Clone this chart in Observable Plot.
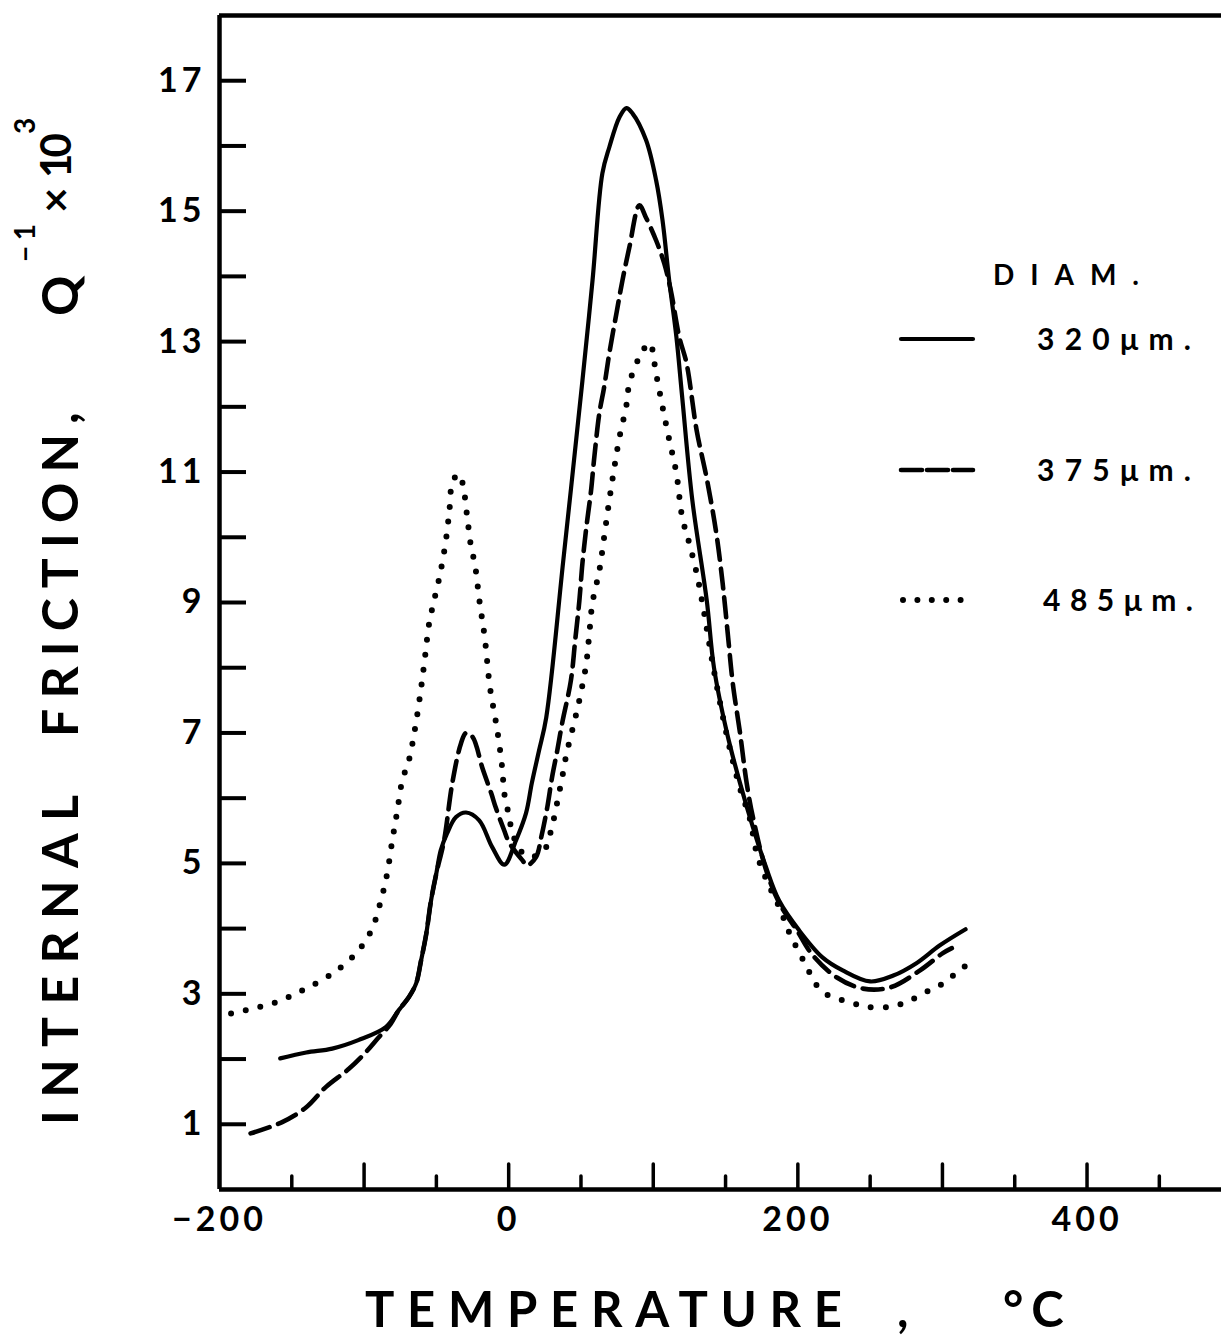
<!DOCTYPE html>
<html><head><meta charset="utf-8">
<script src="https://cdn.jsdelivr.net/npm/d3@7"></script>
<script src="https://cdn.jsdelivr.net/npm/@observablehq/plot@0.6"></script>
<style>body{margin:0;background:#fff;} svg{display:block}</style>
</head><body><div id="chart"></div>
<script>
// ---- data ----
const T320 = [-158, -140, -122, -104, -85, -76, -69, -64, -60.6, -57, -53.7, -50, -47, -42.6, -36.4, -29.5, -20.4, -11.4, -3, 5, 12, 16, 21, 26, 37.8, 51, 58, 64.8, 69.6, 76.6, 81.4, 85.6, 95, 102, 106.4, 111, 116, 120, 127, 137, 142, 151, 160, 169, 178, 187, 201, 217, 231, 250, 266, 282, 298, 316];
const Q320 = [2.01, 2.1, 2.16, 2.29, 2.49, 2.75, 2.95, 3.16, 3.51, 3.92, 4.43, 4.85, 5.2, 5.46, 5.71, 5.78, 5.66, 5.25, 4.98, 5.35, 5.77, 6.23, 6.73, 7.24, 9.65, 12.4, 13.94, 15.58, 15.98, 16.44, 16.58, 16.5, 16.09, 15.47, 14.86, 13.94, 13.07, 12.15, 10.57, 9.03, 8.0, 7.0, 6.23, 5.55, 4.94, 4.43, 3.97, 3.56, 3.36, 3.19, 3.28, 3.47, 3.74, 3.99];

const T375 = [-178.5, -157, -140, -126.5, -110.5, -99, -90, -81.6, -76, -69, -64, -60.6, -57, -53.7, -50, -44.7, -39, -33, -29.5, -25, -18, -12, -9, -3, 0.3, 9.4, 12.8, 19, 22.5, 26.7, 30, 33.6, 37, 43, 46, 48.9, 51, 53.7, 57, 59, 62.7, 66, 69.6, 74.5, 78.7, 83.5, 90.4, 95, 102, 107.6, 112, 118, 123, 130, 137, 143.6, 148, 151.5, 155, 160, 164.6, 169, 178, 187, 200, 210, 227, 245, 264, 284.5, 300, 306.5];
const Q375 = [0.86, 1.03, 1.26, 1.57, 1.85, 2.1, 2.33, 2.54, 2.75, 2.95, 3.16, 3.51, 3.92, 4.43, 4.85, 5.35, 6.23, 6.84, 7.0, 6.94, 6.45, 6.07, 5.86, 5.5, 5.32, 5.05, 4.97, 5.1, 5.4, 5.86, 6.32, 6.73, 7.15, 7.8, 8.42, 9.03, 9.6, 10.15, 10.72, 11.18, 11.9, 12.3, 12.82, 13.43, 13.94, 14.45, 15.09, 14.9, 14.55, 14.2, 13.8, 13.07, 12.67, 11.64, 10.9, 10.06, 9.29, 8.53, 7.76, 7.0, 6.23, 5.7, 4.9, 4.4, 3.95, 3.6, 3.25, 3.08, 3.1, 3.36, 3.62, 3.7];

const T485 = [-192, -177.6, -161, -143, -122, -105.7, -95, -88.4, -84, -80.5, -77, -73.6, -69, -64.6, -61, -58, -55, -52, -47.5, -43.5, -41, -39, -34.9, -32, -29, -26, -23.4, -20, -16.6, -13, -9.4, -7.6, -4.5, -3, 0, 2.7, 8, 15, 22, 26.7, 29, 31.5, 33.6, 35.7, 37.8, 40, 43.3, 46.8, 50, 53.7, 55.8, 57.9, 62.7, 66, 69.6, 73, 76.6, 81.4, 83.5, 90.4, 97.4, 102, 106.4, 111, 116, 120, 125, 130, 134, 142, 151, 160, 166.6, 172, 179, 187.5, 194.4, 202.7, 208, 213, 220.7, 231, 240.6, 248, 259, 267, 275, 288, 300.5, 314, 321];
const Q485 = [2.7, 2.77, 2.87, 3.05, 3.31, 3.62, 3.97, 4.43, 4.85, 5.35, 5.81, 6.27, 6.58, 7.09, 7.62, 8.14, 8.68, 8.99, 9.43, 9.94, 10.41, 10.83, 10.97, 10.84, 10.37, 9.85, 9.59, 8.99, 8.47, 7.71, 7.24, 7.0, 6.47, 6.07, 5.75, 5.46, 5.2, 5.1, 5.15, 5.28, 5.48, 5.71, 5.94, 6.17, 6.41, 6.68, 6.98, 7.3, 7.62, 8.07, 8.53, 8.99, 9.49, 10.0, 10.57, 11.06, 11.53, 12.02, 12.36, 12.76, 12.98, 12.5, 12.0, 11.5, 10.98, 10.31, 9.9, 9.45, 8.99, 7.95, 6.95, 6.15, 5.7, 5.12, 4.71, 4.31, 3.92, 3.56, 3.33, 3.13, 2.98, 2.9, 2.84, 2.8, 2.79, 2.82, 2.87, 3.02, 3.16, 3.4, 3.48];

const diameters = ["320", "375", "485"];
const legendTitle = "DIAM.";
const xMajorTicks = [-100, 0, 100, 200, 300, 400];
const xMinorTicks = [-150, -50, 50, 150, 250, 350, 450];
const xTickLabels = [-200, 0, 200, 400];
const yTicks = [1, 2, 3, 4, 5, 6, 7, 8, 9, 10, 11, 12, 13, 14, 15, 16, 17];
const yTickLabels = [1, 3, 5, 7, 9, 11, 13, 15, 17];
const xDomain = [-200, 493];
const yDomain = [0, 18];

// ---- layout / style ----
const W = 1221, H = 1336, mL = 219, mR = 0, mT = 15, mB = 147;
const plotW = W - mL - mR, plotH = H - mT - mB;
const FONT = "Lato, 'Open Sans', sans-serif";
const styles = [
  {strokeWidth: 4.2, strokeDasharray: null, strokeLinecap: "round"},
  {strokeWidth: 4.6, strokeDasharray: "20,9", strokeLinecap: "round"},
  {strokeWidth: 6, strokeDasharray: "0,15", strokeLinecap: "round"}
];
const seriesT = [T320, T375, T485];
const seriesQ = [Q320, Q375, Q485];
const rows = (i) => seriesT[i].map((t, j) => ({T: t, Q: seriesQ[i][j], d: diameters[i]}));
const fmt = d => d < 0 ? "\u2212" + Math.abs(d) : String(d);

const chart = Plot.plot({
  width: W, height: H,
  marginLeft: mL, marginRight: mR, marginTop: mT, marginBottom: mB,
  style: {fontFamily: FONT, background: "#fff", color: "#000", overflow: "visible"},
  x: {domain: xDomain, axis: null, label: null},
  y: {domain: yDomain, axis: null, label: null},
  marks: [
    ...[2, 1, 0].map(i => Plot.line(rows(i), {
      x: "T", y: "Q", curve: "catmull-rom", stroke: "#000",
      strokeWidth: styles[i].strokeWidth,
      strokeDasharray: styles[i].strokeDasharray,
      strokeLinecap: styles[i].strokeLinecap,
      strokeLinejoin: "round"
    })),
    Plot.tickX(xMajorTicks, {x: d => d, insetTop: plotH - 25, strokeWidth: 3.5, strokeLinecap: "round"}),
    Plot.tickX(xMinorTicks, {x: d => d, insetTop: plotH - 13, strokeWidth: 3.5, strokeLinecap: "round"}),
    Plot.tickY(yTicks, {y: d => d, insetRight: plotW - 27, strokeWidth: 4}),
    Plot.ruleX([xDomain[0]], {strokeWidth: 4.5}),
    Plot.ruleY([yDomain[0]], {strokeWidth: 4.5}),
    Plot.ruleY([yDomain[1]], {strokeWidth: 4.5}),
    Plot.axisX(xTickLabels, {tickSize: 0, tickPadding: 17, fontSize: 34, fontWeight: "bold", tickFormat: fmt, label: null}),
    Plot.axisY(yTickLabels, {tickSize: 0, tickPadding: 14, fontSize: 34, fontWeight: "bold", tickFormat: fmt, label: null})
  ]
});
document.getElementById("chart").appendChild(chart);

const svg = d3.select(chart);
svg.selectAll("[aria-label='x-axis tick label'] text, [aria-label='y-axis tick label'] text")
  .attr("letter-spacing", 4);

const g = svg.append("g").attr("font-family", FONT).attr("font-weight", "bold")
  .attr("fill", "#000").attr("text-anchor", "start");

// x title
g.append("text").attr("x", 365).attr("y", 1327).attr("font-size", 49)
  .attr("textLength", 477).attr("lengthAdjust", "spacing").text("TEMPERATURE");
g.append("text").attr("x", 897).attr("y", 1327).attr("font-size", 49).text(",");
g.append("text").attr("x", 1003).attr("y", 1327).attr("font-size", 49).attr("letter-spacing", 8).text("\u00B0C");

// y title (rotated)
function vtext(x, y, size, str, len) {
  const t = g.append("text").attr("transform", `translate(${x},${y}) rotate(-90)`)
    .attr("font-size", size).text(str);
  if (len) t.attr("textLength", len).attr("lengthAdjust", "spacing");
  return t;
}
vtext(78, 1125, 50, "INTERNAL", 330);
vtext(78, 737, 50, "FRICTION", 303);
vtext(78, 424, 50, ",");
vtext(78, 316, 50, "Q");
vtext(35, 262, 28, "\u22121", 38);
vtext(71, 213, 44, "\u00D7");
vtext(71, 178, 42, "10", 45);
vtext(35, 134, 28, "3");

// legend
g.append("text").attr("x", 993).attr("y", 285).attr("font-size", 28)
  .attr("textLength", 146).attr("lengthAdjust", "spacing").text(legendTitle);
const legendRowY = [339, 470, 600];
diameters.forEach((dm, i) => {
  const st = styles[i];
  g.append("line").attr("x1", i === 2 ? 903 : 901).attr("x2", 973)
    .attr("y1", legendRowY[i]).attr("y2", legendRowY[i])
    .attr("stroke", "#000").attr("stroke-width", st.strokeWidth)
    .attr("stroke-dasharray", i === 1 ? "21,5" : (i === 2 ? "0,14.4" : null))
    .attr("stroke-linecap", "round");
  g.append("text").attr("x", i === 2 ? 1043 : 1037).attr("y", legendRowY[i] + 11).attr("font-size", 30)
    .attr("textLength", i === 2 ? 150 : 154).attr("lengthAdjust", "spacing").text(dm + "\u03BCm.");
});
</script>
</body></html>
